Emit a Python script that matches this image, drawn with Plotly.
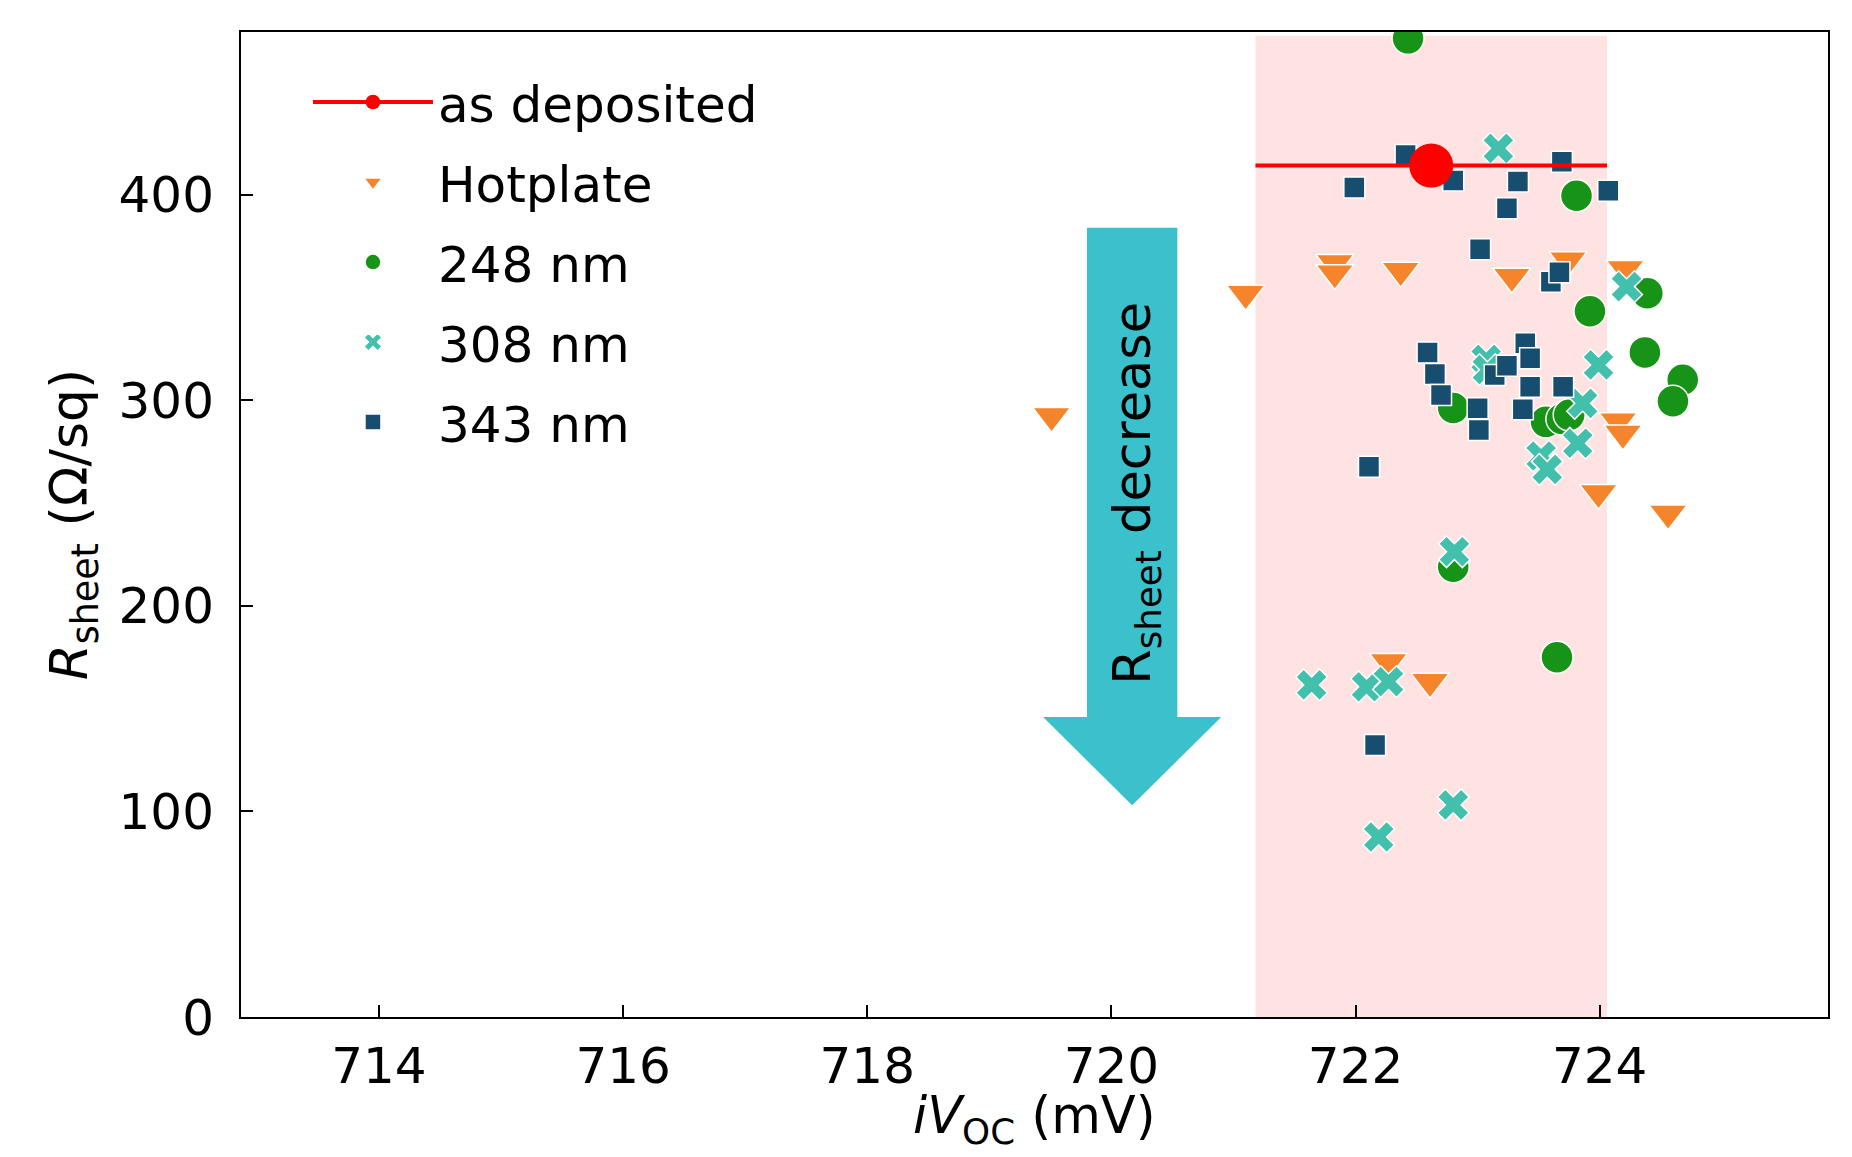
import plotly.graph_objects as go

# ---------------- data ----------------
asdep_x = [722.62]
asdep_y = [414.3]
asdep_xerr = [1.44]

hot_x = [719.51, 721.10, 721.83, 721.83, 722.37, 723.28, 723.74, 724.21, 724.15, 724.19, 723.99, 724.56, 722.27, 722.61]
hot_y = [292.6, 352.0, 367.0, 362.0, 363.2, 360.3, 368.4, 364.1, 290.0, 284.0, 255.1, 245.1, 172.9, 163.2]

nm248_x = [722.43, 723.81, 724.39, 723.92, 724.37, 724.68, 724.60, 722.80, 723.56, 723.69, 723.75, 722.80, 723.65]
nm248_y = [476.2, 399.6, 352.2, 343.4, 323.4, 310.1, 299.6, 296.3, 289.6, 291.0, 293.0, 219.1, 175.1]

nm308_x = [723.17, 724.22, 723.99, 723.86, 723.07, 723.08, 723.82, 723.52, 723.57, 722.81, 721.64, 722.09, 722.27, 722.80, 722.19]
nm308_y = [422.7, 355.4, 317.3, 298.6, 320.0, 315.0, 279.2, 273.0, 266.5, 226.4, 161.6, 160.7, 163.2, 103.2, 87.6]

nm343_x = [722.41, 721.99, 722.80, 723.33, 723.69, 723.24, 724.07, 723.02, 723.60, 723.67, 722.59, 722.65,
           722.70, 723.00, 723.01, 723.14, 723.24, 723.39, 723.43, 723.43, 723.37, 723.70, 722.11, 722.16]
nm343_y = [419.5, 403.6, 407.0, 406.5, 416.2, 393.5, 402.1, 373.6, 357.8, 362.4, 323.3, 312.9,
           302.7, 296.2, 285.6, 312.4, 316.9, 327.8, 320.5, 306.7, 295.7, 306.7, 267.8, 132.4]

x_ticks = [714, 716, 718, 720, 722, 724]
y_ticks = [0, 100, 200, 300, 400]
x_range = [712.87, 725.87]
y_range = [0, 479.3]

# ---------------- styling ----------------
FONT = "DejaVu Sans"
C_HOT = "#f5842a"
C_248 = "#179317"
C_308 = "#42c0ab"
C_343 = "#174d6f"
C_RED = "#ff0000"
C_BAND = "rgba(255,0,0,0.11)"
C_ARROW = "#3ac1cc"

fig = go.Figure()

edge = dict(color="white", width=1.5)

fig.add_trace(go.Scatter(x=hot_x, y=hot_y, mode="markers", name="Hotplate", legendrank=2, legendgroup="g2",
                         marker=dict(symbol="triangle-down", size=33, color=C_HOT, line=edge)))
fig.add_trace(go.Scatter(x=nm248_x, y=nm248_y, mode="markers", name="248 nm", legendrank=3, legendgroup="g3",
                         marker=dict(symbol="circle", size=32, color=C_248, line=edge)))
fig.add_trace(go.Scatter(x=nm308_x, y=nm308_y, mode="markers", name="308 nm", legendrank=4, legendgroup="g4",
                         marker=dict(symbol="x", size=28, color=C_308, line=edge)))
fig.add_trace(go.Scatter(x=nm343_x, y=nm343_y, mode="markers", name="343 nm", legendrank=5, legendgroup="g5",
                         marker=dict(symbol="square", size=21, color=C_343, line=edge)))

# as deposited: mean with horizontal spread (x error)
ax_c, ay_c, ae = asdep_x[0], asdep_y[0], asdep_xerr[0]
fig.add_trace(go.Scatter(x=[ax_c - ae, ax_c, ax_c + ae], y=[ay_c, ay_c, ay_c], mode="lines+markers",
                         name="as deposited", legendrank=1, legendgroup="g1", opacity=1,
                         line=dict(color=C_RED, width=4),
                         marker=dict(size=[0, 44, 0], color=C_RED, opacity=1,
                                     line=dict(color=C_RED, width=0))))

# shaded band = as-deposited spread
band_top = 477.5
fig.add_shape(type="rect", xref="x", yref="y", x0=ax_c - ae, x1=ax_c + ae, y0=0, y1=band_top,
              fillcolor=C_BAND, line=dict(width=0), layer="below")

# big arrow annotation
arr_cx = 720.17
arr_shaft_hw = 0.37
arr_head_hw = 0.73
arr_top, arr_headbase, arr_tip = 384.0, 146.0, 103.0
path = (f"M{arr_cx - arr_shaft_hw},{arr_top} L{arr_cx + arr_shaft_hw},{arr_top} "
        f"L{arr_cx + arr_shaft_hw},{arr_headbase} L{arr_cx + arr_head_hw},{arr_headbase} "
        f"L{arr_cx},{arr_tip} L{arr_cx - arr_head_hw},{arr_headbase} "
        f"L{arr_cx - arr_shaft_hw},{arr_headbase} Z")
fig.add_shape(type="path", xref="x", yref="y", path=path, fillcolor=C_ARROW, line=dict(width=0), layer="above")
fig.add_annotation(x=arr_cx + 0.03, y=255, xref="x", yref="y", text="R<sub>sheet</sub> decrease",
                   textangle=-90, showarrow=False, font=dict(family=FONT, size=51, color="black"))

# x-axis title (placed as annotation for exact position)
fig.add_annotation(x=0.5, y=-0.068, xref="paper", yref="paper", xanchor="center", yanchor="top",
                   text="<i>iV</i><sub>OC</sub> (mV)", showarrow=False,
                   font=dict(family=FONT, size=51, color="black"))

axis_common = dict(showline=True, linecolor="black", linewidth=2, mirror=True, ticks="inside",
                   ticklen=12, tickwidth=2, tickcolor="black", showgrid=False, zeroline=False,
                   automargin=False, tickfont=dict(family=FONT, size=50, color="black"))

fig.update_layout(
    width=1836, height=1141,
    margin=dict(l=233, r=16, t=24, b=132),
    plot_bgcolor="white", paper_bgcolor="white",
    font=dict(family=FONT, size=50, color="black"),
    xaxis=dict(range=x_range, tickvals=x_ticks, ticklabelstandoff=4, **axis_common),
    yaxis=dict(range=y_range, tickvals=y_ticks, ticklabelstandoff=15,
               title=dict(text="<i>R</i><sub>sheet</sub> (Ω/sq)", standoff=14,
                          font=dict(family=FONT, size=52)), **axis_common),
    legend=dict(x=0.0422, y=0.9685, xanchor="left", yanchor="top", bgcolor="rgba(0,0,0,0)",
                itemwidth=120, font=dict(family=FONT, size=50, color="black"),
                traceorder="grouped", tracegroupgap=12),
    showlegend=True,
)

fig.write_html("out.html")
